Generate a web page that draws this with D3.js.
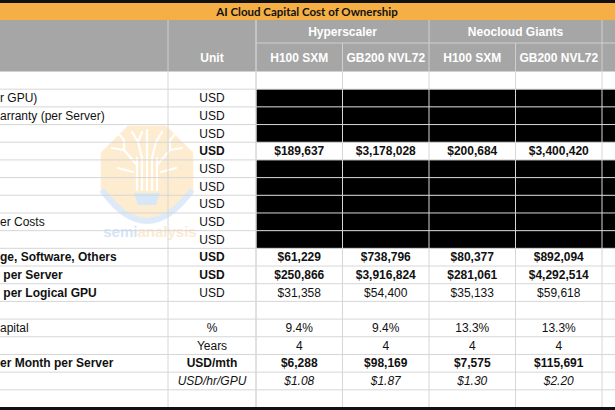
<!DOCTYPE html>
<html>
<head>
<meta charset="utf-8">
<script src="https://cdn.jsdelivr.net/npm/d3@7"></script>
<style>
  body { margin: 0; background: #fff; }
  svg { display: block; font-family: "Liberation Sans", Arial, sans-serif; }
</style>
</head>
<body>
<svg id="chart"></svg>
<script>
// ---- data ----
const title = 'AI Cloud Capital Cost of Ownership'
const groups = ['Hyperscaler', 'Neocloud Giants', '']
const configs = ['H100 SXM', 'GB200 NVL72', 'H100 SXM', 'GB200 NVL72', '']

// row labels are cut off on the left in the source image
const rowLabels = ['', 'r GPU)', 'arranty (per Server)', '', '', '', '', '', 'er Costs', '',
  'ge, Software, Others', ' per Server', ' per Logical GPU', '', 'apital', '',
  'er Month per Server', '', '']
const units = ['', 'USD', 'USD', 'USD', 'USD', 'USD', 'USD', 'USD', 'USD', 'USD',
  'USD', 'USD', 'USD', '', '%', 'Years', 'USD/mth', 'USD/hr/GPU', '']

const redactedRows = [1, 2, 3, 5, 6, 7, 8, 9]
const valueRows = [4, 10, 11, 12, 14, 15, 16, 17]
const hyperH100 = [189637, 61229, 250866, 31358, 0.094, 4, 6288, 1.08]
const hyperGB200 = [3178028, 738796, 3916824, 54400, 0.094, 4, 98169, 1.87]
const neoH100 = [200684, 80377, 281061, 35133, 0.133, 4, 7575, 1.30]
const neoGB200 = [3400420, 892094, 4292514, 59618, 0.133, 4, 115691, 2.20]
const series = [hyperH100, hyperGB200, neoH100, neoGB200]

// ---- styles ----
const boldRows = [4, 10, 11, 12, 16]
const boldValueRows = [4, 10, 11, 16]
const italicRows = [17]

const width = 615
const height = 410

const fmtMoney = d3.format('$,.0f')
const fmtPct = d3.format('.1%')
const fmtCents = d3.format('$.2f')
const formatRow = (r, v) => {
    if (r === 14) return fmtPct(v)
    if (r === 15) return String(v)
    if (r === 17) return fmtCents(v)
    return fmtMoney(v)
}

const svg = d3.select('#chart')
    .attr('width', width)
    .attr('height', height)

// scales
const y = d3.scaleBand()
    .domain(d3.range(rowLabels.length))
    .range([71.5, 407.5])
const x = d3.scaleBand()
    .domain(d3.range(configs.length))
    .range([256, 256 + 86.5 * configs.length])
const labelLeft = 0
const unitX0 = 168
const unitX1 = 256

// top band + title bar
svg.append('rect').attr('x', 0).attr('y', 0).attr('width', width).attr('height', 3).attr('fill', '#111')
svg.append('rect').attr('x', 0).attr('y', 3).attr('width', width).attr('height', 17).attr('fill', '#F5AF45')
svg.append('text')
    .text(title)
    .attr('x', 307).attr('y', 12)
    .attr('dy', '0.35em')
    .attr('text-anchor', 'middle')
    .style('font-family', 'Lato, sans-serif')
    .style('font-weight', 'bold')
    .style('font-size', '11.5px')
    .attr('fill', '#111')

// header
svg.append('rect').attr('x', 0).attr('y', 20).attr('width', width).attr('height', 51.5).attr('fill', '#A6A6A6')

const hdr = svg.append('g').attr('stroke', '#cfcfcf').attr('stroke-width', 1)
hdr.append('line').attr('x1', unitX1).attr('x2', width).attr('y1', 43).attr('y2', 43)
;[unitX0, unitX1].forEach(v => hdr.append('line').attr('x1', v).attr('x2', v).attr('y1', 20).attr('y2', 71.5))
x.domain().forEach(i => {
    const top = i % 2 === 0 ? 20 : 43
    hdr.append('line').attr('x1', x(i)).attr('x2', x(i)).attr('y1', top).attr('y2', 71.5)
})

svg.append('g')
    .selectAll('text')
    .data(groups)
    .join('text')
    .text(d => d)
    .attr('x', (d, i) => x(i * 2) + x.bandwidth())
    .attr('y', 31.5)
    .attr('dy', '0.35em')
    .attr('text-anchor', 'middle')
    .attr('fill', '#fff')
    .style('font-weight', 'bold')
    .style('font-size', '12px')

svg.append('g')
    .selectAll('text')
    .data(configs)
    .join('text')
    .text(d => d)
    .attr('x', (d, i) => x(i) + x.bandwidth() / 2)
    .attr('y', 57.5)
    .attr('dy', '0.35em')
    .attr('text-anchor', 'middle')
    .attr('fill', '#fff')
    .style('font-weight', 'bold')
    .style('font-size', '12px')

svg.append('text')
    .text('Unit')
    .attr('x', (unitX0 + unitX1) / 2).attr('y', 58)
    .attr('dy', '0.35em')
    .attr('text-anchor', 'middle')
    .attr('fill', '#fff')
    .style('font-weight', 'bold')
    .style('font-size', '12px')

// watermark
const wm = svg.append('g').attr('opacity', 0.35)
const oct = d3.range(8).map(k => {
    const a = Math.PI / 8 + k * Math.PI / 4
    return [147 + 50 * Math.cos(a), 172 + 50 * Math.sin(a)]
})
wm.append('polygon').attr('points', oct.map(p => p.join(',')).join(' ')).attr('fill', '#FCCB7A')
wm.append('path')
    .attr('d', 'M102,190 Q147,252 192,190')
    .attr('fill', 'none').attr('stroke', '#9DC6EE').attr('stroke-width', 6)
wm.append('path').attr('d', 'M134,193 L160,193 L156,205 L138,205 Z').attr('fill', '#8DBCEB')
const tree = wm.append('g').attr('stroke', '#fff').attr('stroke-width', 2.2).attr('fill', 'none').attr('stroke-linecap', 'round')
;[-10, -5, 0, 5, 10].forEach(dx => tree.append('line').attr('x1', 147 + dx).attr('x2', 147 + dx).attr('y1', 190).attr('y2', 158))
tree.append('path').attr('d', 'M137,165 L124,150 L124,140 M124,150 L112,148')
tree.append('path').attr('d', 'M157,165 L170,150 L170,140 M170,150 L182,148')
tree.append('path').attr('d', 'M142,158 L138,142 L132,132 M152,158 L156,142 L162,132')
tree.append('path').attr('d', 'M147,158 L147,130 M133,172 L118,168 M161,172 L176,168')
tree.append('path').attr('d', 'M124,140 L118,133 M170,140 L176,133 M138,142 L142,132')
const wmText = wm.append('text').attr('x', 150).attr('y', 237).attr('text-anchor', 'middle')
    .style('font-size', '15px').style('font-weight', 'bold')
wmText.append('tspan').text('semi').attr('fill', '#7FB3E8')
wmText.append('tspan').text('analysis').attr('fill', '#F9C47A')

// redacted cells (first four data columns)
svg.append('g')
    .selectAll('rect')
    .data(d3.cross(redactedRows, d3.range(series.length + 1)))
    .join('rect')
    .attr('x', d => x(d[1]))
    .attr('y', d => y(d[0]))
    .attr('width', x.bandwidth())
    .attr('height', y.bandwidth())
    .attr('fill', '#000')

// grid
const grid = svg.append('g').attr('stroke', '#d6d6d6').attr('stroke-width', 1)
y.domain().slice(1).forEach(r => grid.append('line').attr('x1', 0).attr('x2', width).attr('y1', y(r)).attr('y2', y(r)))
;[unitX0, unitX1, ...x.domain().map(i => x(i))].forEach(v =>
    grid.append('line').attr('x1', v).attr('x2', v).attr('y1', 71.5).attr('y2', 407.5))

// row labels
svg.append('g')
    .selectAll('text')
    .data(rowLabels)
    .join('text')
    .text(d => d)
    .attr('x', labelLeft)
    .attr('y', (d, i) => y(i) + y.bandwidth() / 2)
    .attr('dy', '0.35em')
    .attr('fill', '#111')
    .style('white-space', 'pre')
    .style('font-size', '12px')
    .style('font-weight', (d, i) => boldRows.includes(i) ? 'bold' : 'normal')

// units
svg.append('g')
    .selectAll('text')
    .data(units)
    .join('text')
    .text(d => d)
    .attr('x', (unitX0 + unitX1) / 2)
    .attr('y', (d, i) => y(i) + y.bandwidth() / 2)
    .attr('dy', '0.35em')
    .attr('text-anchor', 'middle')
    .attr('fill', '#111')
    .style('font-size', '12px')
    .style('font-weight', (d, i) => (boldValueRows.includes(i)) ? 'bold' : 'normal')
    .style('font-style', (d, i) => italicRows.includes(i) ? 'italic' : 'normal')

// values
series.forEach((vals, c) => {
    svg.append('g')
        .selectAll('text')
        .data(vals)
        .join('text')
        .text((d, k) => formatRow(valueRows[k], d))
        .attr('x', x(c) + x.bandwidth() / 2)
        .attr('y', (d, k) => y(valueRows[k]) + y.bandwidth() / 2)
        .attr('dy', '0.35em')
        .attr('text-anchor', 'middle')
        .attr('fill', '#111')
        .style('font-size', '12px')
        .style('font-weight', (d, k) => boldValueRows.includes(valueRows[k]) ? 'bold' : 'normal')
        .style('font-style', (d, k) => italicRows.includes(valueRows[k]) ? 'italic' : 'normal')
})

// bottom band
svg.append('rect').attr('x', 0).attr('y', 407).attr('width', width).attr('height', 3).attr('fill', '#111')
</script>
</body>
</html>
